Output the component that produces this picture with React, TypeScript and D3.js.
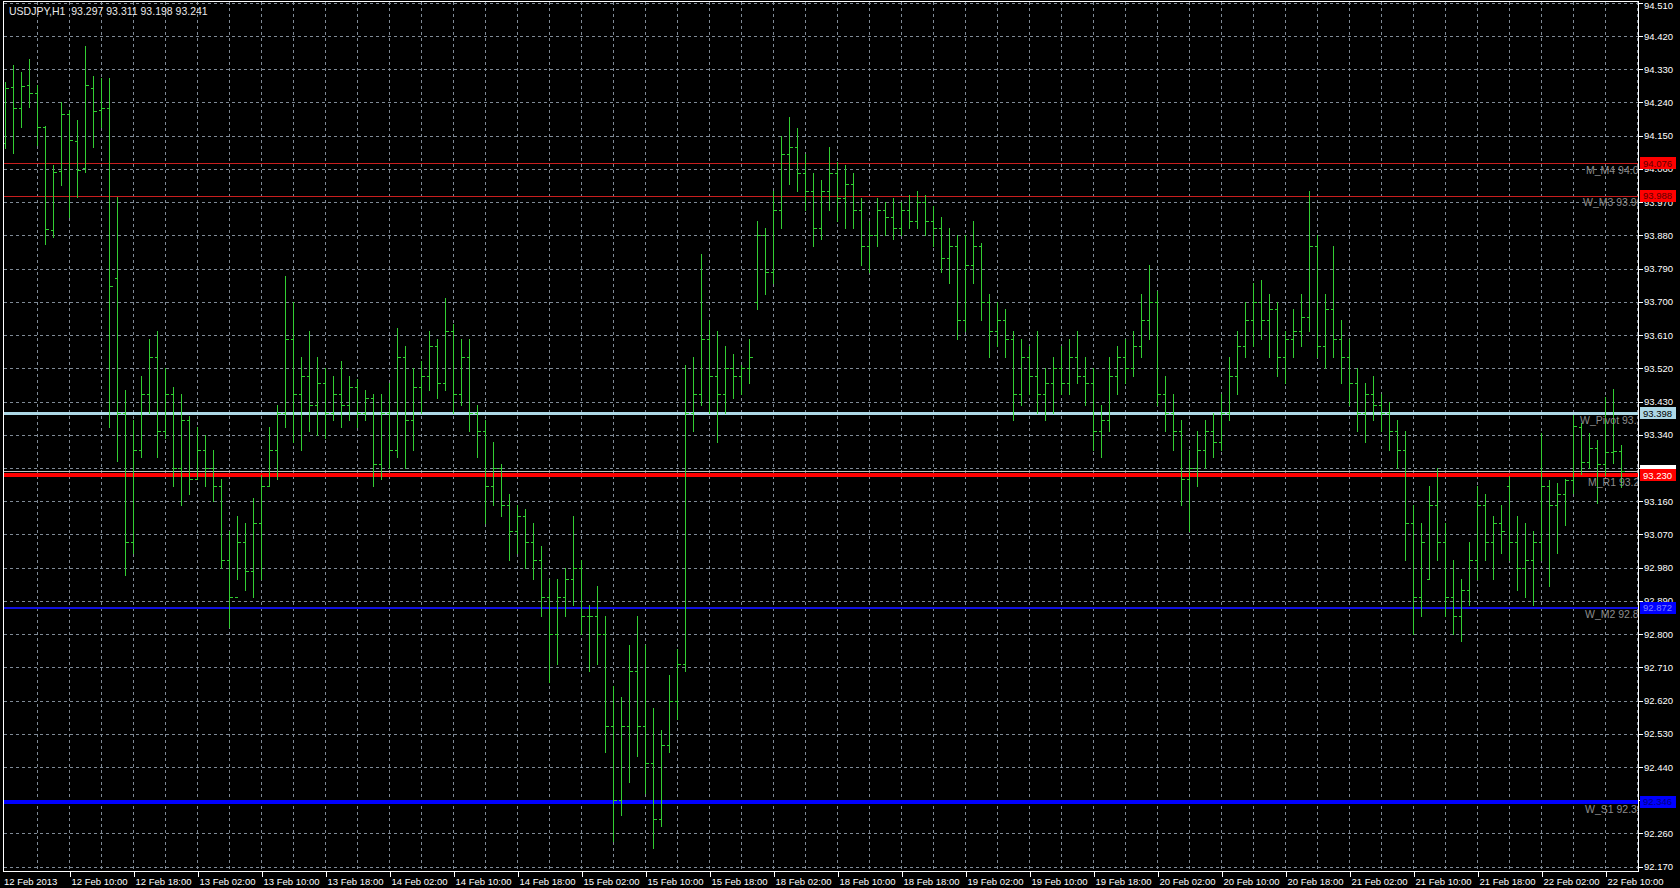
import React from "react";
import * as d3 from "d3";

const symbolTitle = "USDJPY,H1  93.297 93.311 93.198 93.241";

const opens = [
  94.13, 94.283, 94.224, 94.287, 94.265, 94.173, 93.894, 94.054, 94.209, 94.136,
  94.062, 94.28, 94.22, 94.224, 93.764, 93.4, 93.05, 93.3, 93.45, 93.55,
  93.35, 93.45, 93.25, 93.38, 93.22, 93.3, 93.25, 93.2, 93.0, 92.9,
  93.05, 92.97, 93.1, 93.2, 93.3, 93.4, 93.6, 93.45, 93.5, 93.42,
  93.48, 93.4, 93.45, 93.42, 93.47, 93.4, 93.44, 93.26, 93.4, 93.3,
  93.55, 93.38, 93.47, 93.5, 93.58, 93.48, 93.62, 93.45, 93.55, 93.4,
  93.35, 93.2, 93.25, 93.15, 93.08, 93.12, 93.05, 93.0, 92.9, 92.8,
  92.9, 92.95, 92.98, 92.85, 92.85, 92.8, 92.55, 92.35, 92.55, 92.7,
  92.55, 92.45, 92.3, 92.5, 92.62, 92.72, 93.4, 93.45, 93.6, 93.5,
  93.45, 93.52, 93.5, 93.52, 93.7, 93.88, 93.78, 93.95, 94.1, 94.12,
  94.05, 94.0, 93.9, 94.0, 94.05, 93.98, 94.02, 93.95, 93.85, 93.88,
  93.95, 93.93, 93.9, 93.95, 93.92, 93.97, 93.92, 93.9, 93.82, 93.85,
  93.65, 93.8, 93.85, 93.7, 93.62, 93.65, 93.6, 93.45, 93.55, 93.5,
  93.45, 93.48, 93.52, 93.48, 93.55, 93.5, 93.48, 93.35, 93.38, 93.5,
  93.55, 93.52, 93.58, 93.65, 93.7, 93.45, 93.4, 93.35, 93.22, 93.25,
  93.3, 93.35, 93.32, 93.4, 93.5, 93.58, 93.65, 93.7, 93.65, 93.68,
  93.55, 93.6, 93.62, 93.66, 93.85, 93.58, 93.68, 93.6, 93.55, 93.48,
  93.4, 93.45, 93.42, 93.4, 93.35, 93.3, 93.1, 92.9, 92.95, 93.15,
  93.05, 92.9, 92.85, 92.92, 93.0, 93.15, 93.05, 93.1, 93.2, 93.05,
  92.98, 93.0, 93.05, 93.2, 93.15, 93.18, 93.217, 93.362, 93.265, 93.303,
  93.26, 93.294, 93.297
];
const highs = [
  94.296, 94.342, 94.323, 94.358, 94.287, 94.176, 94.071, 94.242, 94.22, 94.192,
  94.393, 94.312, 94.305, 94.305, 93.985, 93.46, 93.38, 93.5, 93.6, 93.62,
  93.52, 93.47, 93.45, 93.39, 93.36, 93.34, 93.3, 93.22, 93.08, 93.12,
  93.1, 93.17, 93.23, 93.36, 93.42, 93.77, 93.7, 93.55, 93.62, 93.55,
  93.52, 93.5, 93.54, 93.5, 93.49, 93.46, 93.45, 93.45, 93.48, 93.63,
  93.58, 93.52, 93.54, 93.62, 93.6, 93.71, 93.64, 93.6, 93.6, 93.42,
  93.38, 93.32, 93.26, 93.18, 93.15, 93.14, 93.1, 93.04, 92.95, 92.95,
  92.98, 93.12, 93.0, 92.88, 92.93, 92.85, 92.66, 92.63, 92.77, 92.85,
  92.77, 92.6, 92.54, 92.69, 92.76, 93.53, 93.55, 93.83, 93.65, 93.62,
  93.58, 93.56, 93.53, 93.6, 93.92, 93.9, 94.0, 94.15, 94.2, 94.17,
  94.1, 94.05, 94.03, 94.12, 94.08, 94.07, 94.05, 93.98, 93.92, 93.98,
  93.97, 93.98, 93.97, 93.99, 94.0, 93.99, 93.96, 93.93, 93.9, 93.88,
  93.88, 93.92, 93.86, 93.72, 93.7, 93.68, 93.62, 93.6, 93.58, 93.62,
  93.52, 93.55, 93.58, 93.6, 93.62, 93.55, 93.52, 93.42, 93.55, 93.58,
  93.6, 93.62, 93.72, 93.8, 93.73, 93.5, 93.45, 93.38, 93.3, 93.35,
  93.38, 93.4, 93.45, 93.55, 93.62, 93.7, 93.75, 93.76, 93.72, 93.7,
  93.62, 93.68, 93.72, 94.0, 93.88, 93.72, 93.85, 93.65, 93.6, 93.52,
  93.48, 93.5, 93.45, 93.43, 93.38, 93.35, 93.15, 93.1, 93.2, 93.25,
  93.1, 93.0, 92.95, 93.05, 93.2, 93.18, 93.12, 93.15, 93.228, 93.12,
  93.1, 93.08, 93.344, 93.217, 93.209, 93.22, 93.393, 93.371, 93.346, 93.326,
  93.443, 93.463, 93.311
];
const lows = [
  94.116, 94.103, 94.174, 94.229, 94.124, 93.858, 93.876, 94.016, 93.93, 93.985,
  94.052, 94.12, 94.173, 93.36, 93.27, 92.96, 93.02, 93.28, 93.4, 93.28,
  93.33, 93.2, 93.15, 93.18, 93.22, 93.2, 93.16, 92.98, 92.82, 92.95,
  92.92, 92.9, 92.95, 93.2, 93.22, 93.36, 93.32, 93.3, 93.35, 93.34,
  93.33, 93.38, 93.36, 93.38, 93.36, 93.38, 93.2, 93.22, 93.25, 93.28,
  93.25, 93.3, 93.4, 93.46, 93.44, 93.46, 93.4, 93.42, 93.35, 93.28,
  93.1, 93.15, 93.12, 93.0, 93.02, 92.98, 92.95, 92.85, 92.67, 92.72,
  92.85, 92.88, 92.8, 92.7, 92.72, 92.48, 92.24, 92.31, 92.4, 92.47,
  92.37, 92.22, 92.28, 92.48, 92.57, 92.7, 93.35, 93.42, 93.4, 93.32,
  93.4, 93.44, 93.45, 93.48, 93.68, 93.72, 93.75, 93.9, 94.02, 94.0,
  93.95, 93.85, 93.87, 93.95, 93.92, 93.9, 93.9, 93.8, 93.78, 93.85,
  93.88, 93.87, 93.88, 93.9, 93.9, 93.88, 93.85, 93.78, 93.75, 93.6,
  93.62, 93.75, 93.65, 93.55, 93.58, 93.55, 93.38, 93.42, 93.45, 93.4,
  93.38, 93.4, 93.45, 93.45, 93.48, 93.42, 93.3, 93.28, 93.35, 93.45,
  93.48, 93.5, 93.55, 93.6, 93.42, 93.35, 93.3, 93.15, 93.08, 93.2,
  93.25, 93.28, 93.3, 93.38, 93.45, 93.55, 93.58, 93.6, 93.55, 93.5,
  93.48, 93.55, 93.58, 93.62, 93.55, 93.52, 93.55, 93.48, 93.42, 93.35,
  93.32, 93.38, 93.35, 93.3, 93.25, 93.0, 92.8, 92.85, 92.95, 93.0,
  92.85, 92.8, 92.78, 92.88, 92.95, 93.0, 92.95, 93.02, 93.0, 92.92,
  92.9, 92.88, 93.0, 92.93, 93.02, 93.096, 93.183, 93.234, 93.249, 93.156,
  93.231, 93.263, 93.198
];
const closes = [
  94.28, 94.224, 94.284, 94.267, 94.173, 93.896, 94.052, 94.209, 94.138, 94.057,
  94.287, 94.217, 94.224, 93.743, 93.4, 93.05, 93.3, 93.45, 93.55, 93.35,
  93.45, 93.25, 93.38, 93.22, 93.3, 93.25, 93.2, 93.0, 92.9, 93.05,
  92.97, 93.1, 93.2, 93.3, 93.4, 93.6, 93.45, 93.5, 93.42, 93.48,
  93.4, 93.45, 93.42, 93.47, 93.4, 93.44, 93.26, 93.4, 93.3, 93.55,
  93.38, 93.47, 93.5, 93.58, 93.48, 93.62, 93.45, 93.55, 93.4, 93.35,
  93.2, 93.25, 93.15, 93.08, 93.12, 93.05, 93.0, 92.9, 92.8, 92.9,
  92.95, 92.98, 92.85, 92.85, 92.8, 92.55, 92.35, 92.55, 92.7, 92.55,
  92.45, 92.3, 92.5, 92.62, 92.72, 93.4, 93.45, 93.6, 93.5, 93.45,
  93.52, 93.5, 93.52, 93.55, 93.88, 93.78, 93.95, 94.1, 94.12, 94.05,
  94.0, 93.9, 94.0, 94.05, 93.98, 94.02, 93.95, 93.85, 93.88, 93.95,
  93.93, 93.9, 93.95, 93.92, 93.97, 93.92, 93.9, 93.82, 93.85, 93.65,
  93.8, 93.85, 93.7, 93.62, 93.65, 93.6, 93.45, 93.55, 93.5, 93.45,
  93.48, 93.52, 93.48, 93.55, 93.5, 93.48, 93.35, 93.38, 93.5, 93.55,
  93.52, 93.58, 93.65, 93.7, 93.45, 93.4, 93.35, 93.22, 93.25, 93.3,
  93.35, 93.32, 93.4, 93.5, 93.58, 93.65, 93.7, 93.65, 93.68, 93.55,
  93.6, 93.62, 93.66, 93.85, 93.58, 93.68, 93.6, 93.55, 93.48, 93.4,
  93.45, 93.42, 93.4, 93.35, 93.3, 93.1, 92.9, 93.05, 93.15, 93.05,
  92.9, 92.85, 92.92, 93.0, 93.15, 93.05, 93.1, 93.08, 93.05, 92.98,
  93.0, 93.05, 93.2, 93.15, 93.18, 93.217, 93.364, 93.265, 93.303, 93.26,
  93.294, 93.297, 93.241
];

const timeLabels = [
  "12 Feb 2013", "12 Feb 10:00", "12 Feb 18:00", "13 Feb 02:00", "13 Feb 10:00",
  "13 Feb 18:00", "14 Feb 02:00", "14 Feb 10:00", "14 Feb 18:00", "15 Feb 02:00",
  "15 Feb 10:00", "15 Feb 18:00", "18 Feb 02:00", "18 Feb 10:00", "18 Feb 18:00",
  "19 Feb 02:00", "19 Feb 10:00", "19 Feb 18:00", "20 Feb 02:00", "20 Feb 10:00",
  "20 Feb 18:00", "21 Feb 02:00", "21 Feb 10:00", "21 Feb 18:00", "22 Feb 02:00",
  "22 Feb 10:00"
];

const priceTickLabels = [
  "92.170", "92.260", "92.350", "92.440", "92.530", "92.620", "92.710", "92.800",
  "92.890", "92.980", "93.070", "93.160", "93.250", "93.340", "93.430", "93.520",
  "93.610", "93.700", "93.790", "93.880", "93.970", "94.060", "94.150", "94.240",
  "94.330", "94.420", "94.510"
];

const levelNames = ["M_M4", "W_M3", "W_Pivot", "M_R1", "W_M2", "W_S1"];
const levelPrices = [94.076, 93.988, 93.398, 93.23, 92.872, 92.346];
const bidPrice = 93.241;

// styles (not data)
const levelStyles = [
  { line: "#c81e1e", width: 1, box: "#ff0000", text: "#600000", labelX: 1586 },
  { line: "#c81e1e", width: 1, box: "#ff0000", text: "#600000", labelX: 1583 },
  { line: "#add8e6", width: 3, box: "#add8e6", text: "#000000", labelX: 1580 },
  { line: "#ff0000", width: 4, box: "#ff0000", text: "#ffffff", labelX: 1588 },
  { line: "#1010e0", width: 2, box: "#0000ff", text: "#8080ff", labelX: 1585 },
  { line: "#0000ff", width: 4, box: "#0000ff", text: "#000080", labelX: 1585 },
];

const FONT = "'Liberation Sans', Arial, sans-serif";

export default function App() {
  const plotL = 3.5, plotR = 1638.5, plotT = 1.5, plotB = 871.5;
  const n = opens.length;
  const x = d3.scaleLinear().domain([0, 1]).range([5.5, 13.5]);
  const y = d3.scaleLinear().domain([92.17, 94.51]).range([866.7, 2.8]);
  const py = (p: number) => Math.round(y(p)) + 0.5;

  const bars = d3.range(n).map((i) => {
    const cx = x(i);
    return (
      <g key={i}>
        <line x1={cx} x2={cx} y1={Math.round(y(highs[i]))} y2={Math.round(y(lows[i])) + 1} stroke="#32cd32" strokeWidth={1} />
        <line x1={cx - 2.5} x2={cx} y1={py(opens[i])} y2={py(opens[i])} stroke="#32cd32" strokeWidth={1} />
        <line x1={cx} x2={cx + 3} y1={py(closes[i])} y2={py(closes[i])} stroke="#32cd32" strokeWidth={1} />
      </g>
    );
  });

  const vGrid: number[] = [];
  for (let i = 4; x(i) < plotR; i += 4) vGrid.push(x(i));

  const tickVals = priceTickLabels.map((s) => parseFloat(s));

  return (
    <svg width={1680} height={888} style={{ position: "absolute", left: 0, top: 0, background: "#000", display: "block" }} shapeRendering="crispEdges">
      <defs>
        <clipPath id="plotClip">
          <rect x={plotL} y={plotT} width={plotR - plotL} height={plotB - plotT} />
        </clipPath>
      </defs>
      <rect x={0} y={0} width={1680} height={888} fill="#000" />
      {/* grid */}
      <g stroke="#7f8a96" strokeWidth={1} strokeDasharray="3,3">
        {tickVals.map((v, k) => (
          <line key={"h" + k} x1={plotL} x2={plotR} y1={py(v)} y2={py(v)} />
        ))}
        {vGrid.map((gx, k) => (
          <line key={"v" + k} x1={gx} x2={gx} y1={plotT} y2={plotB} />
        ))}
      </g>
      {/* level lines */}
      <g clipPath="url(#plotClip)">
        <line x1={plotL} x2={plotR} y1={py(bidPrice)} y2={py(bidPrice)} stroke="#c0c0c0" strokeWidth={1} />
        {levelPrices.map((p, k) => (
          <line key={"l" + k} x1={plotL} x2={plotR} y1={Math.round(y(p)) + (levelStyles[k].width % 2 ? 0.5 : 0)} y2={Math.round(y(p)) + (levelStyles[k].width % 2 ? 0.5 : 0)} stroke={levelStyles[k].line} strokeWidth={levelStyles[k].width} />
        ))}
      </g>
      {/* bars */}
      <g clipPath="url(#plotClip)">{bars}</g>
      {/* level texts */}
      <g clipPath="url(#plotClip)" fontFamily={FONT} fontSize={10.5} fill="#8c8c8c">
        {levelPrices.map((p, k) => (
          <text key={"t" + k} x={levelStyles[k].labelX} y={y(p) + 8} dominantBaseline="middle">
            {levelNames[k] + " " + p.toFixed(3)}
          </text>
        ))}
      </g>
      {/* frame */}
      <rect x={plotL} y={plotT} width={plotR - plotL} height={plotB - plotT} fill="none" stroke="#ffffff" strokeWidth={1} />
      {/* header */}
      <text x={9} y={15} fontFamily={FONT} fontSize={10.5} fill="#e8e8e8" style={{ whiteSpace: "pre" }}>{symbolTitle}</text>
      {/* y axis */}
      <g fontFamily={FONT} fontSize={9.5} fill="#ffffff">
        {tickVals.map((v, k) => (
          <g key={"y" + k}>
            <line x1={plotR} x2={plotR + 4} y1={py(v)} y2={py(v)} stroke="#ffffff" />
            <text x={1644} y={Math.max(y(v) + 3.5, 9)}>{priceTickLabels[k]}</text>
          </g>
        ))}
      </g>
      {/* x axis */}
      <g fontFamily={FONT} fontSize={9.5} fill="#ffffff">
        {timeLabels.map((s, k) => {
          const tx = Math.round(x(k * 8)) + 0.5;
          return (
            <g key={"x" + k}>
              {k > 0 && <line x1={tx} x2={tx} y1={plotB} y2={plotB + 5} stroke="#ffffff" />}
              <text x={k === 0 ? 4 : tx + 1} y={885}>{s}</text>
            </g>
          );
        })}
      </g>
      {/* price boxes */}
      <g fontFamily={FONT} fontSize={9.5}>
        <rect x={1640} y={y(bidPrice) - 6} width={36} height={12} fill="#ffffff" />
        <text x={1643} y={y(bidPrice) + 3.5} fill="#000">{bidPrice.toFixed(3)}</text>
        {levelPrices.map((p, k) => (
          <g key={"b" + k}>
            <rect x={1640} y={y(p) - 6} width={36} height={12} fill={levelStyles[k].box} />
            <text x={1643} y={y(p) + 3.5} fill={levelStyles[k].text}>{p.toFixed(3)}</text>
          </g>
        ))}
      </g>
    </svg>
  );
}
